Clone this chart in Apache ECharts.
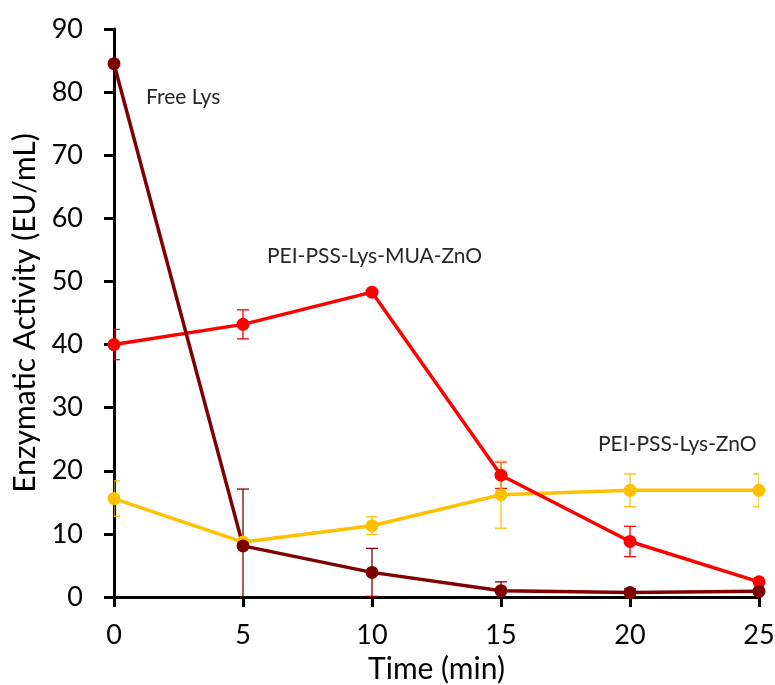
<!DOCTYPE html>
<html>
<head>
<meta charset="utf-8">
<script src="https://cdn.jsdelivr.net/npm/echarts@6/dist/echarts.min.js"></script>
<style>
  html, body { margin: 0; padding: 0; background: #fff; }
  #chart { width: 775px; height: 685px; }
</style>
</head>
<body>
<div id="chart"></div>
<script>
// Sampling times (min)
const times = [0, 5, 10, 15, 20, 25];

// Enzymatic activity (EU/mL) and standard deviations
const freeLys = [84.5, 8.1, 3.9, 1.0, 0.7, 0.9];
const freeLysErr = [0, 9.0, 3.8, 1.4, 0.6, 0.4];

const mua = [40.0, 43.2, 48.3, 19.3, 8.8, 2.4];
const muaErr = [2.4, 2.3, 0, 2.1, 2.4, 0];

const znO = [15.6, 8.7, 11.3, 16.2, 16.9, 16.9];
const znOErr = [2.8, 0, 1.4, 5.3, 2.6, 2.6];

const seriesNames = ['Free Lys', 'PEI-PSS-Lys-MUA-ZnO', 'PEI-PSS-Lys-ZnO'];
const colors = ['#7f0000', '#ff0000', '#ffc000'];

const FONT = 'Lato';

function pairs(vals) {
  return times.map((t, i) => [t, vals[i]]);
}

function errorData(vals, errs) {
  return times.map((t, i) => [t, vals[i] - errs[i], vals[i] + errs[i]]);
}

// Vertical error bars with caps, clipped to the plot area
function errorSeries(vals, errs, color) {
  return {
    type: 'custom',
    clip: true,
    z: 1,
    silent: true,
    data: errorData(vals, errs),
    renderItem: function (params, api) {
      const x = api.value(0);
      const lo = api.coord([x, api.value(1)]);
      const hi = api.coord([x, api.value(2)]);
      if (Math.abs(hi[1] - lo[1]) < 0.5) return null;
      const half = 6;
      const style = { stroke: color, lineWidth: 1.3 };
      return {
        type: 'group',
        children: [
          { type: 'line', shape: { x1: lo[0], y1: lo[1], x2: hi[0], y2: hi[1] }, style: style },
          { type: 'line', shape: { x1: hi[0] - half, y1: hi[1], x2: hi[0] + half, y2: hi[1] }, style: style },
          { type: 'line', shape: { x1: lo[0] - half, y1: lo[1], x2: lo[0] + half, y2: lo[1] }, style: style }
        ]
      };
    }
  };
}

function lineSeries(name, vals, color) {
  return {
    name: name,
    type: 'line',
    data: pairs(vals),
    symbol: 'circle',
    symbolSize: 13,
    z: 3,
    lineStyle: { color: color, width: 3.5 },
    itemStyle: { color: color },
    animation: false
  };
}

const chart = echarts.init(document.getElementById('chart'));
chart.setOption({
  animation: false,
  backgroundColor: '#ffffff',
  grid: { left: 114, right: 16, top: 29, bottom: 88, containLabel: false, outerBoundsMode: 'none' },
  xAxis: {
    type: 'value',
    min: 0, max: 25, interval: 5,
    name: 'Time (min)',
    nameLocation: 'middle',
    nameGap: 52,
    nameTextStyle: { fontFamily: FONT, fontSize: 30, color: '#000' },
    axisLine: { lineStyle: { color: '#000', width: 3 } },
    axisTick: { show: true, inside: false, length: 10, lineStyle: { color: '#000', width: 3 } },
    axisLabel: { fontFamily: FONT, fontSize: 27, color: '#000', margin: 25 },
    splitLine: { show: false }
  },
  yAxis: {
    type: 'value',
    min: 0, max: 90, interval: 10,
    name: 'Enzymatic Activity (EU/mL)',
    nameLocation: 'middle',
    nameGap: 72,
    nameRotate: 90,
    nameTextStyle: { fontFamily: FONT, fontSize: 30, color: '#000' },
    axisLine: { show: true, lineStyle: { color: '#000', width: 3 } },
    axisTick: { show: true, inside: false, length: 10, lineStyle: { color: '#000', width: 3 } },
    axisLabel: { fontFamily: FONT, fontSize: 27, color: '#000', margin: 31 },
    splitLine: { show: false }
  },
  graphic: [
    { type: 'text', left: 146, top: 87, style: { text: seriesNames[0], font: '21px ' + FONT, fill: '#262626' } },
    { type: 'text', left: 267, top: 246, style: { text: seriesNames[1], font: '21px ' + FONT, fill: '#262626' } },
    { type: 'text', left: 598, top: 434, style: { text: seriesNames[2], font: '21px ' + FONT, fill: '#262626' } }
  ],
  series: [
    errorSeries(freeLys, freeLysErr, colors[0]),
    errorSeries(mua, muaErr, colors[1]),
    errorSeries(znO, znOErr, colors[2]),
    lineSeries(seriesNames[2], znO, colors[2]),
    lineSeries(seriesNames[1], mua, colors[1]),
    lineSeries(seriesNames[0], freeLys, colors[0])
  ]
});
</script>
</body>
</html>
